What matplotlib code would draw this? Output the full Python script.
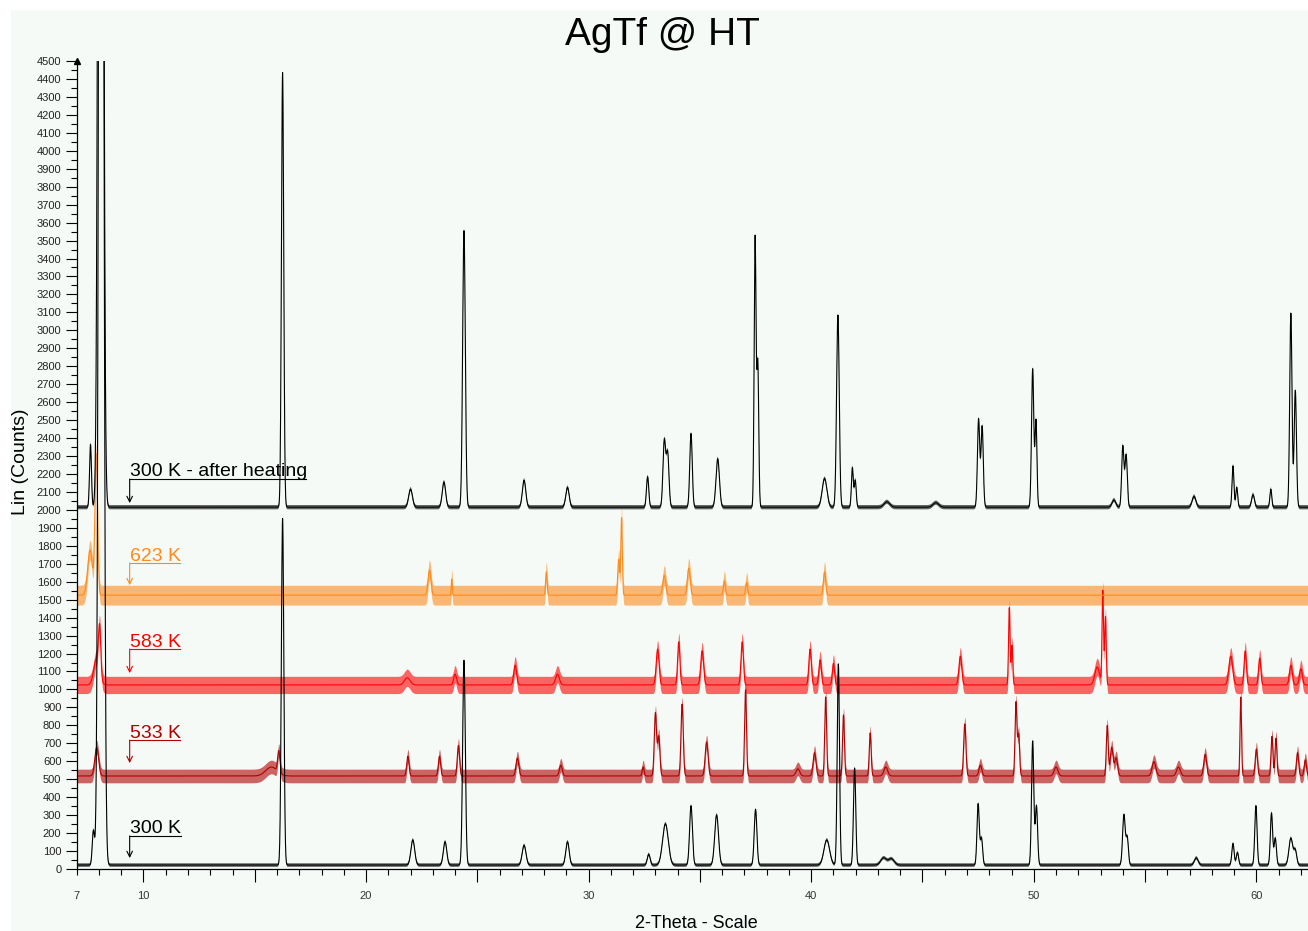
import numpy as np
import matplotlib
matplotlib.use("Agg")
from matplotlib import pyplot as plt
from matplotlib.patches import Rectangle

plt.rcParams['font.family'] = ['Liberation Sans', 'DejaVu Sans']

# 2-theta grid of the scan
two_theta = np.arange(7.0, 62.4, 0.01)

# peak lists: (2-theta, counts above background, fwhm)
peaks_300 = [(7.75, 190, 0.12), (8.1, 12000, 0.21), (16.25, 1930, 0.13), (22.1, 140, 0.2),
             (23.55, 130, 0.18), (24.4, 1140, 0.14), (27.1, 110, 0.2), (29.05, 130, 0.18),
             (32.7, 60, 0.15), (33.45, 230, 0.3), (34.6, 330, 0.15), (35.75, 280, 0.2),
             (37.5, 310, 0.14), (40.7, 140, 0.3), (41.22, 1120, 0.12), (41.95, 540, 0.12),
             (43.25, 40, 0.3), (43.6, 35, 0.3), (47.5, 340, 0.12), (47.65, 150, 0.12),
             (49.95, 690, 0.12), (50.12, 330, 0.12), (54.05, 280, 0.14), (54.2, 150, 0.12),
             (57.3, 40, 0.2), (58.95, 120, 0.12), (59.15, 70, 0.12), (59.98, 330, 0.12),
             (60.68, 290, 0.12), (60.85, 150, 0.12), (61.55, 150, 0.2), (61.75, 80, 0.15)]

peaks_533 = [(7.9, 160, 0.2), (15.75, 50, 0.6), (16.08, 120, 0.12), (21.88, 110, 0.12),
             (23.3, 110, 0.12), (24.15, 170, 0.12), (26.8, 100, 0.15), (28.75, 60, 0.15),
             (32.45, 50, 0.1), (33.0, 350, 0.12), (33.15, 220, 0.12), (34.2, 400, 0.12),
             (35.3, 190, 0.15), (37.05, 480, 0.1), (39.4, 40, 0.2), (40.15, 130, 0.15),
             (40.65, 440, 0.1), (41.45, 340, 0.1), (42.65, 240, 0.1), (43.35, 50, 0.2),
             (46.9, 290, 0.12), (47.6, 60, 0.15), (49.2, 410, 0.1), (49.32, 230, 0.1),
             (51.0, 50, 0.2), (53.3, 280, 0.1), (53.5, 160, 0.15), (53.7, 100, 0.15),
             (55.4, 80, 0.2), (56.5, 50, 0.2), (57.7, 120, 0.15), (59.3, 440, 0.08),
             (60.0, 150, 0.12), (60.7, 220, 0.1), (60.88, 210, 0.1), (61.85, 130, 0.12),
             (62.2, 90, 0.12)]

peaks_583 = [(7.9, 150, 0.3), (8.03, 250, 0.12), (21.85, 40, 0.3), (24.0, 60, 0.15),
             (26.7, 110, 0.15), (28.6, 60, 0.2), (33.1, 200, 0.15), (34.05, 240, 0.12),
             (35.1, 190, 0.15), (36.9, 240, 0.13), (39.95, 200, 0.13), (40.4, 140, 0.13),
             (41.0, 120, 0.12), (46.7, 160, 0.15), (48.9, 430, 0.08), (49.02, 220, 0.08),
             (52.85, 100, 0.25), (53.1, 520, 0.08), (53.22, 380, 0.08), (58.85, 160, 0.2),
             (59.5, 190, 0.12), (60.15, 150, 0.12), (61.55, 110, 0.15), (62.0, 90, 0.15)]

peaks_623 = [(7.6, 250, 0.25), (7.88, 780, 0.14), (22.85, 140, 0.15), (23.85, 90, 0.05),
             (28.1, 130, 0.08), (31.35, 200, 0.1), (31.48, 430, 0.08), (33.4, 110, 0.15),
             (34.5, 150, 0.15), (36.1, 80, 0.1), (37.1, 70, 0.1), (40.6, 130, 0.12)]

peaks_after = [(7.62, 350, 0.1), (8.08, 12000, 0.21), (16.25, 2420, 0.12), (22.0, 100, 0.2),
               (23.5, 140, 0.18), (24.4, 1540, 0.14), (27.1, 150, 0.18), (29.05, 110, 0.18),
               (32.65, 170, 0.12), (33.4, 370, 0.14), (33.55, 300, 0.14), (34.6, 410, 0.13),
               (35.8, 270, 0.18), (37.48, 1500, 0.1), (37.6, 800, 0.1), (40.6, 160, 0.25),
               (41.2, 1070, 0.14), (41.85, 220, 0.1), (41.98, 150, 0.1), (43.4, 30, 0.3),
               (45.6, 25, 0.3), (47.52, 490, 0.12), (47.68, 450, 0.12), (49.95, 770, 0.12),
               (50.1, 480, 0.1), (53.6, 40, 0.2), (54.0, 340, 0.12), (54.15, 290, 0.12),
               (57.2, 60, 0.2), (58.95, 230, 0.1), (59.12, 110, 0.1), (59.85, 70, 0.15),
               (60.65, 100, 0.1), (61.55, 1080, 0.12), (61.75, 650, 0.12)]

labels = ['533 K', '583 K', '623 K', '300 K - after heating', '300 K']
peak_lists = [peaks_533, peaks_583, peaks_623, peaks_after, peaks_300]
background = [518, 1025, 1525, 2015, 22]
noise = [38, 48, 55, 12, 10]
colors = ['#b00000', '#ff0000', '#ff8a1c', 'black', 'black']

# label arrow: (underline level, arrow tip level, underline end in 2-theta)
label_marks = [(718, 590, 11.65), (1225, 1091, 11.65), (1704, 1581, 11.65),
               (2172, 2038, 17.31), (184, 61, 11.7)]


def pattern(peaks, base):
    y = np.full_like(two_theta, float(base))
    for pos, h, fwhm in peaks:
        s = fwhm / 2.355
        y += h * np.exp(-0.5 * ((two_theta - pos) / s) ** 2)
    return y


fig = plt.figure(figsize=(13.08, 9.31), dpi=100)
fig.patch.set_facecolor('white')
fig.patches.append(Rectangle((11 / 1308, 0), 1, 1 - 10 / 931, transform=fig.transFigure,
                             facecolor='#f5faf7', edgecolor='none', zorder=-10))

ax = fig.add_axes([76.7 / 1308, 1 - 869 / 931, 1 - 76.7 / 1308, (869 - 61) / 931])
ax.set_facecolor('none')

for lab, pk, b, n, c, mark in zip(labels, peak_lists, background, noise, colors, label_marks):
    y = pattern(pk, b)
    ax.fill_between(two_theta, y - n, y + n, color=c, alpha=0.6, lw=0)
    ax.plot(two_theta, y, color=c, lw=0.8)
    y_line, y_tip, x_end = mark
    x0 = 9.38
    ax.text(x0, y_line + 14, lab, color=c, fontsize=14, va='baseline', ha='left')
    ax.plot([x0, x_end], [y_line, y_line], color=c, lw=0.8)
    ax.annotate('', xy=(x0, y_tip), xytext=(x0, y_line),
                arrowprops=dict(arrowstyle='->', color=c, lw=0.8, shrinkA=0, shrinkB=0))

ax.set_xlim(7, 62.32)
ax.set_ylim(0, 4500)

for side in ['top', 'right']:
    ax.spines[side].set_visible(False)
ax.spines['left'].set_linewidth(0.9)
ax.spines['bottom'].set_linewidth(0.9)
ax.plot([0], [1], marker='^', color='black', markersize=5, transform=ax.transAxes,
        clip_on=False)

ax.set_yticks(np.arange(0, 4501, 100))
ax.set_yticks(np.arange(50, 4500, 100), minor=True)
ax.tick_params(axis='y', which='major', length=8, width=0.8, pad=3, labelsize=8,
               labelcolor='#222222')
ax.tick_params(axis='y', which='minor', length=4.5, width=0.8)

xt = [7] + list(range(10, 61, 5))
ax.set_xticks(xt)
ax.set_xticklabels([str(t) if t == 7 or t % 10 == 0 else '' for t in xt])
ax.set_xticks(range(8, 63), minor=True)
ax.tick_params(axis='x', which='major', length=9, width=0.8, pad=7, labelsize=8,
               labelcolor='#333333')
ax.tick_params(axis='x', which='minor', length=4.5, width=0.8)
ax.xaxis.get_major_ticks()[0].tick1line.set_markersize(4.5)

fig.text(662 / 1308, 1 - 45 / 931, 'AgTf @ HT', fontsize=28, ha='center', va='baseline')
fig.text(696 / 1308, 1 - 928 / 931, '2-Theta - Scale', fontsize=13, ha='center',
         va='baseline')
fig.text(21 / 1308, 1 - 462 / 931, 'Lin (Counts)', fontsize=14, rotation=90,
         ha='center', va='center')

fig.savefig('out.png', dpi=100)
